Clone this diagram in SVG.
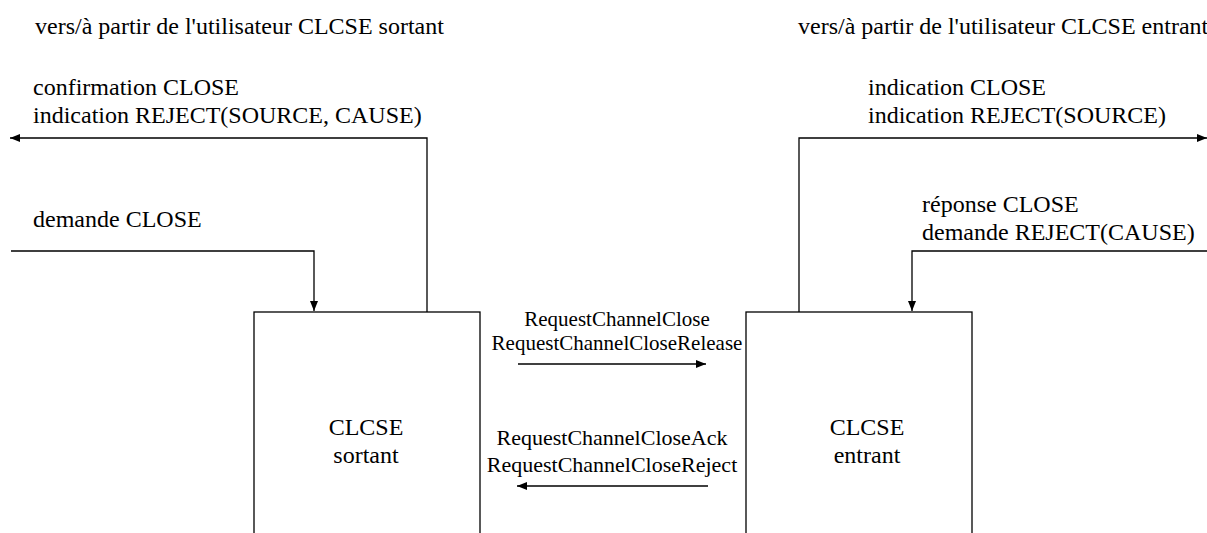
<svg xmlns="http://www.w3.org/2000/svg" width="1207" height="533" viewBox="0 0 1207 533" font-family="'Liberation Serif', 'Times New Roman', 'DejaVu Serif', serif">
<style>
text{font-family:"Liberation Serif","Times New Roman","DejaVu Serif",serif;fill:#000}
.t{font-size:24px}
.m{font-size:21px;text-anchor:middle}
.n{font-size:22px;text-anchor:middle}
.c{font-size:24px;text-anchor:middle}
.box{fill:#fff;stroke:#000;stroke-width:1.3}
.ln{fill:none;stroke:#000;stroke-width:1.3}
</style>
<defs>
<marker id="ah" viewBox="0 0 10 8" refX="10" refY="4" markerWidth="10" markerHeight="8" markerUnits="userSpaceOnUse" orient="auto">
<path d="M0,0 L10,4 L0,8 z" fill="#000"/>
</marker>
</defs>
<g id="labels">
<text class="t" x="35" y="34">vers/à partir de l'utilisateur CLCSE sortant</text>
<text class="t" x="798" y="34">vers/à partir de l'utilisateur CLCSE entrant</text>
<text class="t" x="33" y="95">confirmation CLOSE</text>
<text class="t" x="33" y="123">indication REJECT(SOURCE, CAUSE)</text>
<text class="t" x="868" y="95">indication CLOSE</text>
<text class="t" x="868" y="123">indication REJECT(SOURCE)</text>
<text class="t" x="33" y="227">demande CLOSE</text>
<text class="t" x="922" y="212">réponse CLOSE</text>
<text class="t" x="922" y="240">demande REJECT(CAUSE)</text>
<text class="m" x="617" y="326">RequestChannelClose</text>
<text class="m" x="617" y="350">RequestChannelCloseRelease</text>
<text class="n" x="612" y="445">RequestChannelCloseAck</text>
<text class="n" x="612" y="472">RequestChannelCloseReject</text>
</g>
<g id="node-sortant">
<rect class="box" x="254" y="312" width="226" height="230"/>
<text class="c" x="366" y="435">CLCSE</text>
<text class="c" x="366" y="463">sortant</text>
</g>
<g id="node-entrant">
<rect class="box" x="746" y="312" width="226" height="230"/>
<text class="c" x="867" y="435">CLCSE</text>
<text class="c" x="867" y="463">entrant</text>
</g>
<g id="connectors">
<polyline class="ln" points="427,312 427,138 10,138" marker-end="url(#ah)"/>
<polyline class="ln" points="799,312 799,138 1207,138" marker-end="url(#ah)"/>
<polyline class="ln" points="11,251 314,251 314,311" marker-end="url(#ah)"/>
<polyline class="ln" points="1207,251 912,251 912,311" marker-end="url(#ah)"/>
<line class="ln" x1="518" y1="364" x2="706" y2="364" marker-end="url(#ah)"/>
<line class="ln" x1="708" y1="486" x2="517" y2="486" marker-end="url(#ah)"/>
</g>
</svg>
